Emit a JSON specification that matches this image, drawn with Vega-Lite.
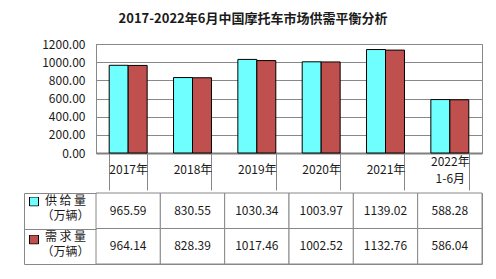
{
  "$schema": "https://vega.github.io/schema/vega-lite/v6.json",
  "padding": {"left": 23, "top": 12, "right": 15, "bottom": 16},
  "background": "white",
  "config": {
    "font": "Noto Sans CJK SC",
    "view": {"stroke": "#888888", "strokeWidth": 1},
    "concat": {"spacing": 0}
  },
  "title": {
    "text": "2017-2022年6月中国摩托车市场供需平衡分析",
    "fontSize": 13,
    "fontWeight": "bold",
    "font": "Noto Sans CJK SC",
    "color": "#1a1a1a",
    "anchor": "middle",
    "offset": 12
  },
  "data": {
    "values": [
      {"year": "2017年", "series": "供给量", "value": 965.59},
      {"year": "2017年", "series": "需求量", "value": 964.14},
      {"year": "2018年", "series": "供给量", "value": 830.55},
      {"year": "2018年", "series": "需求量", "value": 828.39},
      {"year": "2019年", "series": "供给量", "value": 1030.34},
      {"year": "2019年", "series": "需求量", "value": 1017.46},
      {"year": "2020年", "series": "供给量", "value": 1003.97},
      {"year": "2020年", "series": "需求量", "value": 1002.52},
      {"year": "2021年", "series": "供给量", "value": 1139.02},
      {"year": "2021年", "series": "需求量", "value": 1132.76},
      {"year": "2022年1-6月", "series": "供给量", "value": 588.28},
      {"year": "2022年1-6月", "series": "需求量", "value": 586.04}
    ]
  },
  "spacing": 0,
  "resolve": {"scale": {"x": "independent", "y": "independent"}},
  "vconcat": [
    {
      "width": 386,
      "height": 109,
      "mark": {"type": "bar", "stroke": "black", "strokeWidth": 1, "opacity": 1},
      "encoding": {
        "x": {
          "field": "year",
          "type": "nominal",
          "sort": null,
          "scale": {"paddingInner": 0.41, "paddingOuter": 0.205},
          "axis": {
            "title": null,
            "orient": "bottom",
            "labelAngle": 0,
            "tickBand": "extent",
            "tickSize": 37,
            "tickColor": "#888888",
            "domainColor": "#808080",
            "domainWidth": 2,
            "labelPadding": {"condition": {"test": "datum.value == '2022年1-6月'", "value": -29}, "value": -21},
            "labelBaseline": "middle",
            "labelFontSize": 12,
            "labelLineHeight": 17,
            "labelColor": "#1a1a1a",
            "labelExpr": "datum.label == '2022年1-6月' ? ['2022年', '1-6月'] : datum.label"
          }
        },
        "xOffset": {"field": "series", "sort": ["供给量", "需求量"]},
        "y": {
          "field": "value",
          "type": "quantitative",
          "scale": {"domain": [0, 1200]},
          "axis": {
            "title": null,
            "values": [0, 200, 400, 600, 800, 1000, 1200],
            "format": ".2f",
            "ticks": false,
            "labelPadding": 11,
            "labelFontSize": 12,
            "labelColor": "#1a1a1a",
            "domainColor": "#888888",
            "gridColor": "#888888",
            "gridOpacity": 1
          }
        },
        "color": {
          "field": "series",
          "type": "nominal",
          "scale": {"domain": ["供给量", "需求量"], "range": ["#6FFFFF", "#C0504D"]},
          "legend": {
            "orient": "none",
            "legendX": -67,
            "legendY": 153,
            "title": null,
            "symbolType": "square",
            "symbolSize": 81,
            "symbolStrokeColor": "black",
            "symbolStrokeWidth": 1,
            "symbolOpacity": 1,
            "labelExpr": "''",
            "clipHeight": 9,
            "rowPadding": 27,
            "padding": 0
          }
        }
      }
    },
    {
      "width": 386,
      "height": 71,
      "encoding": {
        "x": {
          "field": "year",
          "type": "nominal",
          "sort": null,
          "scale": {"paddingInner": 0, "paddingOuter": 0},
          "axis": null
        },
        "y": {
          "field": "series",
          "type": "nominal",
          "sort": ["供给量", "需求量"],
          "scale": {"paddingInner": 0, "paddingOuter": 0},
          "axis": {
            "title": null,
            "orient": "left",
            "offset": 72,
            "domainColor": "#888888",
            "tickBand": "extent",
            "tickSize": -72,
            "tickColor": "#888888",
            "labelAlign": "center",
            "labelBaseline": "top",
            "labelPadding": 31,
            "labelOffset": -15,
            "labelFontSize": 12,
            "labelLineHeight": 15,
            "labelColor": "#1a1a1a",
            "labelExpr": "datum.label == '供给量' ? ['供\u2009给\u2009量', '（万辆）'] : datum.label == '需求量' ? ['需\u2009求\u2009量', '（万辆）'] : ''"
          }
        }
      },
      "layer": [
        {"mark": {"type": "rect", "fill": "white", "stroke": "#888888", "strokeWidth": 1}},
        {
          "mark": {"type": "text", "fontSize": 12, "color": "#1a1a1a"},
          "encoding": {"text": {"field": "value", "type": "quantitative", "format": ".2f"}}
        }
      ]
    }
  ]
}
